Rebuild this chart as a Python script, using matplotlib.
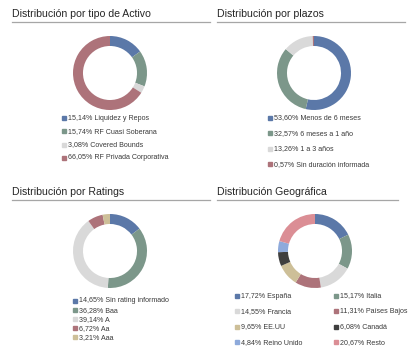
import matplotlib
matplotlib.use("Agg")
import matplotlib.pyplot as plt
from matplotlib.patches import Rectangle
from matplotlib.lines import Line2D

plt.rcParams['font.family'] = ['Liberation Sans', 'DejaVu Sans']

W, H = 420, 358

# datos
activo_labels = ["Liquidez y Repos", "RF Cuasi Soberana", "Covered Bounds", "RF Privada Corporativa"]
activo_vals = [15.14, 15.74, 3.08, 66.05]

plazos_labels = ["Menos de 6 meses", "6 meses a 1 año", "1 a 3 años", "Sin duración informada"]
plazos_vals = [53.60, 32.57, 13.26, 0.57]

rating_labels = ["Sin rating informado", "Baa", "A", "Aa", "Aaa"]
rating_vals = [14.65, 36.28, 39.14, 6.72, 3.21]

geo_labels = ["España", "Italia", "Francia", "Países Bajos", "EE.UU", "Canadá", "Reino Unido", "Resto"]
geo_vals = [17.72, 15.17, 14.55, 11.31, 9.65, 6.08, 4.84, 20.67]

azul, verde, gris, rojo = "#5b78a8", "#7c978a", "#d9d9d9", "#ad737a"
tostado, negro, celeste, rosa = "#cdbf98", "#3f3f3f", "#8eaadb", "#db8e95"

col4 = [azul, verde, gris, rojo]
col5 = [azul, verde, gris, rojo, tostado]
col8 = [azul, verde, gris, rojo, tostado, negro, celeste, rosa]


def fmt(v):
    return ("%.2f%%" % v).replace(".", ",")


fig = plt.figure(figsize=(W / 100, H / 100), dpi=100)


def titulo(x, y, x2, txt):
    fig.text(x / W, 1 - y / H, txt, fontsize=7.6, color="#262626", va="center", ha="left")
    fig.add_artist(Line2D([x / W, x2 / W], [1 - (y + 8) / H] * 2, color="#a6a6a6", lw=0.9))


def dona(cx, cy, vals, cols, r=37):
    ax = fig.add_axes([(cx - r) / W, 1 - (cy + r) / H, 2 * r / W, 2 * r / H])
    ax.pie(vals, colors=cols, startangle=90, counterclock=False,
           wedgeprops=dict(width=0.27, linewidth=0))
    ax.set_xlim(-1, 1)
    ax.set_ylim(-1, 1)
    ax.set_aspect("equal")
    ax.axis("off")


def leyenda(x, y, txt, c):
    fig.add_artist(Rectangle(((x - 2) / W, 1 - (y + 2) / H), 4 / W, 4 / H, color=c,
                             transform=fig.transFigure))
    fig.text((x + 4) / W, 1 - y / H, txt, fontsize=5.1, color="#3a3a3a", va="center", ha="left")


# panel 1
titulo(12, 14, 210, "Distribución por tipo de Activo")
dona(110, 73, activo_vals, col4)
for i in range(4):
    leyenda(64, 118 + i * 13.3, fmt(activo_vals[i]) + " " + activo_labels[i], col4[i])

# panel 2
titulo(217, 14, 405, "Distribución por plazos")
dona(314, 73, plazos_vals, col4)
for i in range(4):
    leyenda(270, 118 + i * 15.4, fmt(plazos_vals[i]) + " " + plazos_labels[i], col4[i])

# panel 3
titulo(12, 192, 210, "Distribución por Ratings")
dona(110, 251, rating_vals, col5)
for i in range(5):
    leyenda(75, 301 + i * 9.1, fmt(rating_vals[i]) + " " + rating_labels[i], col5[i])

# panel 4
titulo(217, 192, 398, "Distribución Geográfica")
dona(315, 251, geo_vals, col8)
for i in range(8):
    x = 237 if i % 2 == 0 else 336
    leyenda(x, 296 + (i // 2) * 15.4, fmt(geo_vals[i]) + " " + geo_labels[i], col8[i])

fig.savefig("out.png", dpi=100)
